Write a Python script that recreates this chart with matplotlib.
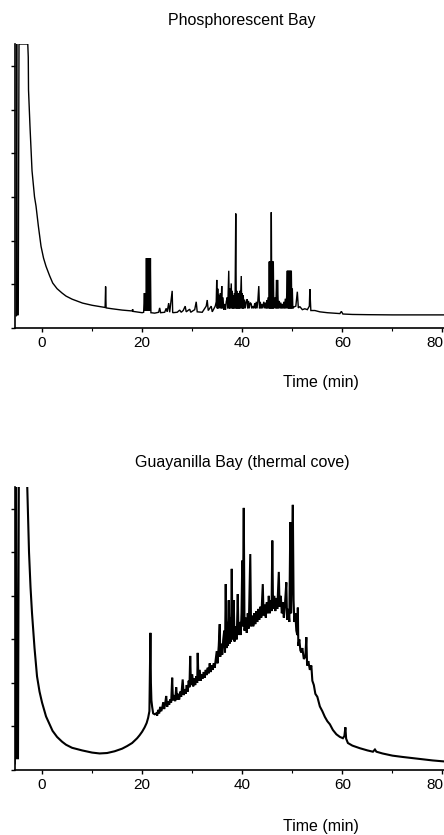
import numpy as np
import matplotlib
matplotlib.use("Agg")
import matplotlib.pyplot as plt
from matplotlib.transforms import ScaledTranslation

plt.rcParams['font.family'] = ['Liberation Sans', 'DejaVu Sans']

# ---- data (time in min, detector response in arbitrary units) ----
phos_time = [-5.15, -5.07, -5.0, -4.75, -4.6, -4.4, -2.85, -2.75, -2.7, -2.4, -2.0, -1.5, -1.2, -0.73, -0.2,
             0.3, 0.8, 1.5, 2.13, 3.0, 4.0, 4.8, 6.0, 8.1, 10.0, 12.0, 12.6, 12.7, 12.8, 14.0, 16.0, 18.0, 18.1,
             18.2, 20.0,
             20.3, 20.45, 20.55, 20.65, 20.75, 20.85, 20.95, 21.05, 21.15, 21.25, 21.35, 21.45, 21.55, 21.65, 21.75,
             22.5, 23.3, 23.5, 23.7,
             24.5, 24.8, 25.0, 25.3, 25.5, 26.0, 26.1, 27.0, 27.5, 27.8, 28.2, 28.6, 28.8, 29.5, 29.7, 30.5, 30.8,
             31.0, 32.0, 32.8, 33.0, 33.2, 33.8, 34.0,
             34.6, 34.8, 34.9, 35.0, 35.1, 35.2, 35.3, 35.45, 35.6, 35.75, 35.9, 36.0, 36.15, 36.3,
             36.5, 36.65, 36.8, 37.0, 37.1, 37.3, 37.4, 37.5, 37.6, 37.8, 37.9, 38.0, 38.1, 38.2, 38.3, 38.45, 38.55,
             38.7, 38.8, 38.9, 39.0, 39.1, 39.2, 39.3, 39.4, 39.5, 39.6, 39.8, 39.9, 40.0, 40.1, 40.2, 40.3, 40.45,
             40.6, 40.8, 41.0, 41.1, 41.25, 41.4, 41.6, 41.8, 41.9, 42.1, 42.3, 42.5, 42.65, 42.8, 42.95, 43.1,
             43.3, 43.45, 43.6, 43.75, 43.9, 44.05, 44.3, 44.45, 44.6, 44.75, 44.9, 45.0, 45.15, 45.3, 45.4, 45.5,
             45.6, 45.7, 45.8, 45.9, 46.0, 46.1, 46.2, 46.3, 46.45, 46.6, 46.7, 46.85, 46.95, 47.05, 47.2, 47.4,
             47.55, 47.7, 47.85, 48.0, 48.15, 48.3, 48.45, 48.6, 48.75, 48.9, 49.0, 49.1, 49.2, 49.3, 49.4, 49.5,
             49.6, 49.7, 49.8, 49.9, 50.0, 50.1, 50.3,
             50.7, 51.0, 51.2, 51.5, 52.0, 52.5, 53.0, 53.4, 53.5, 53.7, 54.5, 55.5, 57.0, 59.5, 59.8, 60.1, 62.0, 65.0,
             70.0, 75.0, 81.0]
phos_resp = [0.28, 6.6, 0.3, 0.3, 6.5, 6.5, 6.5, 6.2, 5.45, 4.6, 3.6, 3.0, 2.79, 2.33, 1.87,
             1.6, 1.41, 1.2, 1.03, 0.9, 0.8, 0.73, 0.66, 0.57, 0.52, 0.48, 0.47, 0.95, 0.46, 0.44, 0.41, 0.39, 0.43,
             0.38, 0.35,
             0.36, 0.8, 0.4, 0.8, 0.4, 1.6, 0.4, 1.6, 0.4, 1.6, 0.4, 1.6, 0.4, 1.6, 0.35,
             0.34, 0.36, 0.46, 0.35,
             0.36, 0.45, 0.37, 0.57, 0.36, 0.85, 0.35, 0.36, 0.41, 0.36, 0.4, 0.5, 0.37, 0.43, 0.36, 0.42, 0.6,
             0.37, 0.36, 0.5, 0.64, 0.4, 0.5, 0.37,
             0.5, 0.6, 1.1, 0.45, 0.9, 0.45, 0.76, 0.45, 0.8, 0.45, 0.96, 0.45, 0.7, 0.42,
             0.55, 0.42, 0.6, 0.7, 0.45, 1.31, 0.45, 0.9, 0.45, 1.02, 0.45, 0.85, 0.45, 0.75, 0.45, 0.8, 0.45,
             2.62, 0.45, 0.85, 0.45, 0.78, 0.45, 0.8, 0.45, 0.85, 0.45, 1.19, 0.45, 0.8, 0.45, 0.75, 0.45, 0.65,
             0.45, 0.6, 0.66, 0.45, 0.62, 0.45, 0.58, 0.55, 0.45, 0.5, 0.45, 0.57, 0.45, 0.6, 0.45, 0.6,
             0.96, 0.45, 0.6, 0.45, 0.55, 0.45, 0.6, 0.45, 0.58, 0.45, 0.64, 0.45, 0.7, 0.45, 1.52, 0.45,
             1.52, 0.45, 2.65, 0.45, 1.52, 0.45, 1.52, 0.45, 0.6, 0.7, 0.45, 1.1, 0.45, 1.1, 0.45, 0.62,
             0.45, 0.58, 0.45, 0.55, 0.45, 0.6, 0.45, 0.67, 0.45, 0.8, 1.31, 0.45, 1.31, 0.45, 1.31, 0.45,
             1.31, 0.45, 1.31, 0.45, 0.9, 0.45, 0.48,
             0.5, 0.83, 0.46, 0.49, 0.42, 0.44, 0.42, 0.5, 0.89, 0.4, 0.4, 0.37, 0.35, 0.33, 0.38, 0.32, 0.31, 0.305,
             0.30, 0.30, 0.30]

guay_time = [-5.45, -5.35, -5.2, -5.05, -4.8, -4.6, -3.1, -2.95, -2.6, -2.3, -2.0, -1.5, -1.0, -0.5, 0.0, 0.8,
             1.5, 2.1, 3.0, 4.0, 4.8, 6.0, 8.0, 10.0, 11.5, 13.0, 14.5, 16.0, 17.0, 18.0, 19.0, 19.5, 20.0, 20.5,
             20.9, 21.2, 21.45, 21.55, 21.65, 21.75, 21.85, 22.0, 22.2, 22.5, 22.8,
             23.0, 23.2, 23.4, 23.6, 23.8, 24.0, 24.2, 24.4, 24.6, 24.8, 25.0, 25.2, 25.4, 25.6, 25.8, 26.0, 26.15,
             26.4, 26.6, 26.8, 27.0, 27.2, 27.4, 27.6, 27.8, 28.1, 28.3, 28.5, 28.7, 28.9, 29.1, 29.3, 29.45, 29.6,
             29.75, 30.0, 30.2, 30.4, 30.6, 30.8, 31.0, 31.1, 31.25, 31.5, 31.7, 31.9, 32.1, 32.3, 32.5, 32.7, 32.9,
             33.1, 33.3, 33.5, 33.7, 33.9, 34.1, 34.3, 34.5, 34.7, 34.9, 35.05, 35.3, 35.5, 35.6, 35.8, 36.0, 36.2,
             36.4, 36.55, 36.7, 36.85, 37.0, 37.15, 37.3, 37.45, 37.6, 37.75, 37.9, 38.05, 38.3, 38.45, 38.7, 38.9,
             39.1, 39.25, 39.5, 39.7, 39.85, 40.0, 40.1, 40.3, 40.45, 40.7, 40.9, 41.1, 41.3, 41.6, 41.75, 42.0,
             42.2, 42.4, 42.6, 42.8, 43.0, 43.2, 43.4, 43.6, 43.8, 44.1, 44.25, 44.5, 44.7, 44.9, 45.1, 45.3, 45.5,
             45.7, 45.85, 46.0, 46.15, 46.4, 46.6, 46.8, 47.0, 47.3, 47.45, 47.7, 47.9, 48.1, 48.3, 48.5, 48.8,
             48.95, 49.2, 49.4, 49.6, 49.75, 49.9, 50.1, 50.25, 50.4, 50.6, 50.8, 51.0, 51.1, 51.2, 51.4, 51.6,
             51.8, 52.0, 52.3, 52.6, 52.8, 52.95, 53.2, 53.5, 53.8, 54.0, 54.3, 54.6, 55.0, 55.5, 56.0, 56.5, 57.0,
             57.5, 58.1, 58.8, 59.5, 60.1, 60.4, 60.6, 60.75, 61.1, 62.0, 63.5, 65.0, 66.1, 66.5, 66.8, 68.0, 70.0,
             72.0, 75.0, 78.0, 81.0]
guay_resp = [0.15, 8.0, 8.0, 0.27, 0.27, 8.0, 8.0, 6.5, 5.0, 4.2, 3.6, 2.8, 2.15, 1.8, 1.55, 1.23,
             1.05, 0.9, 0.76, 0.65, 0.58, 0.51, 0.45, 0.40, 0.38, 0.39, 0.43, 0.49, 0.55, 0.62, 0.73, 0.8, 0.88, 0.98,
             1.08, 1.2, 1.35, 2.3, 3.15, 2.0, 1.6, 1.45, 1.3, 1.28, 1.3,
             1.25, 1.38, 1.30, 1.45, 1.35, 1.42, 1.55, 1.40, 1.52, 1.70, 1.45, 1.58, 1.50, 1.62, 1.55, 2.12, 1.6,
             1.72, 1.58, 1.90, 1.62, 1.75, 1.62, 1.80, 1.68, 2.08, 1.72, 1.85, 1.75, 1.95, 1.80, 2.05, 1.9, 2.62,
             1.95, 2.2, 1.92, 2.1, 1.95, 2.15, 2.0, 2.69, 2.05, 2.3, 2.05, 2.2, 2.1, 2.25, 2.12, 2.3, 2.18,
             2.35, 2.22, 2.45, 2.25, 2.4, 2.3, 2.45, 2.35, 2.55, 2.73, 2.45, 2.85, 3.35, 2.6, 2.9, 2.65, 3.0,
             3.2, 2.7, 4.27, 2.8, 3.4, 2.85, 3.9, 2.9, 3.5, 2.95, 4.62, 3.0, 3.9, 2.95, 3.3, 3.0,
             4.04, 3.1, 3.4, 3.1, 3.6, 4.81, 3.3, 6.02, 3.2, 3.5, 3.15, 3.6, 3.25, 4.96, 3.3, 3.55,
             3.3, 3.6, 3.35, 3.65, 3.4, 3.7, 3.45, 3.75, 3.5, 4.27, 3.55, 3.8, 3.5, 3.85, 3.6, 4.0, 3.6,
             3.9, 3.65, 5.27, 3.7, 4.0, 3.65, 3.95, 3.7, 4.55, 3.75, 4.0, 3.6, 3.85, 3.5, 3.75, 4.31,
             3.45, 3.7, 3.4, 5.69, 3.6, 4.5, 6.09, 3.9, 3.4, 3.6, 3.2, 3.1, 3.73, 2.85, 3.0, 2.75,
             2.7, 2.8, 2.55, 2.6, 3.05, 2.4, 2.5, 2.3, 2.4, 2.05, 1.95, 1.75, 1.68, 1.46, 1.35, 1.22, 1.12,
             1.05, 0.92, 0.82, 0.76, 0.73, 0.78, 0.98, 0.72, 0.62, 0.56, 0.5, 0.45, 0.42, 0.47, 0.42, 0.38, 0.33,
             0.30, 0.26, 0.22, 0.19]

panel_titles = ["Phosphorescent Bay", "Guayanilla Bay (thermal cove)"]
x_major = [0, 20, 40, 60, 80]
x_minor = [10, 30, 50, 70]
y_ticks = [0, 1, 2, 3, 4, 5, 6]
xlabel = "Time (min)"

fig = plt.figure(figsize=(4.44, 8.35), dpi=100)
W, H = 444.0, 835.0

def make_axes(bottom_px, top_px):
    return fig.add_axes([15 / W, 1 - bottom_px / H, (W - 15) / W, (bottom_px - top_px) / H])

ax1 = make_axes(328, 44)
ax2 = make_axes(770, 487)

series = [(phos_time, phos_resp, 1.0), (guay_time, guay_resp, 1.5)]
for ax, (t, r, lw) in zip([ax1, ax2], series):
    ax.plot(t, r, color='black', lw=lw, solid_joinstyle='miter')
    ax.set_xlim(-5.4, 80.3)
    ax.set_ylim(0, 6.5)
    for s in ['top', 'right']:
        ax.spines[s].set_visible(False)
    for s in ['left', 'bottom']:
        ax.spines[s].set_linewidth(1.2)
    ax.set_xticks(x_major)
    ax.set_xticks(x_minor, minor=True)
    ax.set_yticks(y_ticks)
    ax.set_yticklabels([])
    ax.tick_params(axis='x', which='major', direction='out', length=3, width=1, labelsize=11, pad=3)
    ax.tick_params(axis='x', which='minor', direction='out', length=2, width=0.8)
    ax.tick_params(axis='y', direction='out', length=3, width=1)
    ax.patch.set_visible(False)
    # the last label sits slightly left so it fits at the right edge, as in the source
    last = ax.xaxis.get_major_ticks()[-1].label1
    last.set_transform(last.get_transform() + ScaledTranslation(-8 / 100, 0, fig.dpi_scale_trans))

fig.text(242 / W, 1 - 20 / H, panel_titles[0], ha='center', va='center', fontsize=11.5)
fig.text(321 / W, 1 - 383 / H, xlabel, ha='center', va='center', fontsize=11.5)
fig.text(242 / W, 1 - 463 / H, panel_titles[1], ha='center', va='center', fontsize=11.5)
fig.text(321 / W, 1 - 826 / H, xlabel, ha='center', va='center', fontsize=11.5)

fig.savefig("out.png", dpi=100)
